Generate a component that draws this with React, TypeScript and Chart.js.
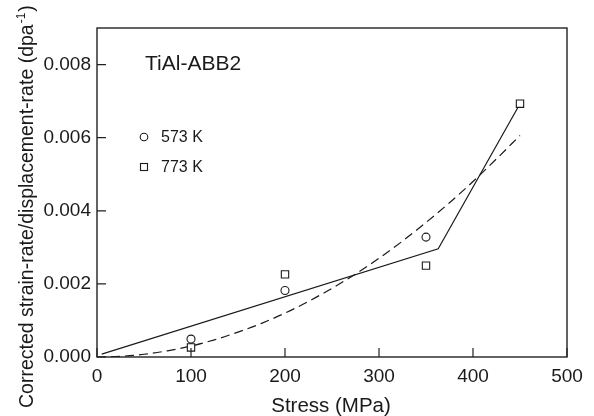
import React, { useEffect, useRef } from "react";
import { Chart, registerables } from "chart.js";

Chart.register(...registerables);

// ---- data ----
const xTicks = [0, 100, 200, 300, 400, 500];
const yTicks = [0, 0.002, 0.004, 0.006, 0.008];

const circleX = [100, 200, 350];
const circleY = [0.00049, 0.00182, 0.00328];

const squareX = [100, 200, 350, 450];
const squareY = [0.00026, 0.00226, 0.0025, 0.00693];

const solidX = [5, 363, 450];
const solidY = [0.00008, 0.00296, 0.00693];

const dashedX = [0, 25, 50, 75, 100, 125, 150, 175, 200, 225, 250, 275, 300, 325, 350, 375, 400, 425, 450];
const dashedY = [0, 0.00002, 0.000075, 0.00017, 0.0003, 0.00047, 0.00068, 0.00092, 0.0012, 0.00152, 0.00188, 0.00227, 0.0027, 0.00317, 0.00368, 0.00422, 0.0048, 0.00542, 0.00606];

const seriesLabels = ["573 K", "773 K"];
const chartTitle = "TiAl-ABB2";
const xTitle = "Stress (MPa)";
const yTitleMain = "Corrected strain-rate/displacement-rate (dpa";
const yTitleSup = "-1";
const yTitleEnd = ")";

const FONT = "'Liberation Sans', Arial, Helvetica, sans-serif";
const INK = "#1a1a1a";

const pts = (xs: number[], ys: number[]) => xs.map((x, i) => ({ x, y: ys[i] }));

const decorPlugin = {
  id: "decor",
  afterDraw(chart: any) {
    const { ctx, chartArea: a, scales } = chart;
    const xs = scales.x;
    const ys = scales.y;
    ctx.save();
    // frame
    ctx.strokeStyle = "#222";
    ctx.lineWidth = 1.4;
    ctx.strokeRect(a.left, a.top, a.right - a.left, a.bottom - a.top);
    // inward ticks
    ctx.lineWidth = 1.2;
    ctx.beginPath();
    xTicks.forEach((v) => {
      const px = xs.getPixelForValue(v);
      ctx.moveTo(px, a.bottom);
      ctx.lineTo(px, a.bottom - 9);
    });
    yTicks.forEach((v) => {
      const py = ys.getPixelForValue(v);
      ctx.moveTo(a.left, py);
      ctx.lineTo(a.left + 9, py);
    });
    ctx.stroke();

    ctx.fillStyle = INK;
    // inner title
    ctx.font = `21px ${FONT}`;
    ctx.textBaseline = "middle";
    ctx.textAlign = "left";
    ctx.fillText(chartTitle, a.left + 48, a.top + 36);

    // legend
    ctx.font = `16px ${FONT}`;
    ctx.lineWidth = 1.1;
    ctx.strokeStyle = INK;
    const lx = a.left + 47;
    const ly1 = a.top + 109;
    const ly2 = a.top + 139;
    ctx.beginPath();
    ctx.arc(lx, ly1, 3.8, 0, Math.PI * 2);
    ctx.stroke();
    ctx.strokeRect(lx - 3.5, ly2 - 3.5, 7, 7);
    ctx.fillText(seriesLabels[0], a.left + 64, ly1 + 1);
    ctx.fillText(seriesLabels[1], a.left + 64, ly2 + 1);

    // x title
    ctx.font = `20.5px ${FONT}`;
    ctx.textAlign = "center";
    ctx.textBaseline = "alphabetic";
    ctx.fillText(xTitle, (a.left + a.right) / 2 - 1, 412);

    // y title (rotated, with superscript)
    ctx.save();
    ctx.translate(33, 408);
    ctx.rotate(-Math.PI / 2);
    ctx.textAlign = "left";
    ctx.font = `19.5px ${FONT}`;
    ctx.fillText(yTitleMain, 0, 0);
    const w1 = ctx.measureText(yTitleMain).width;
    ctx.font = `12px ${FONT}`;
    ctx.fillText(yTitleSup, w1 + 1, -8);
    const w2 = ctx.measureText(yTitleSup).width;
    ctx.font = `19.5px ${FONT}`;
    ctx.fillText(yTitleEnd, w1 + w2 + 2, 0);
    ctx.restore();

    ctx.restore();
  },
};

export default function App() {
  const ref = useRef<HTMLCanvasElement | null>(null);
  useEffect(() => {
    document.body.style.margin = "0";
    const canvas = ref.current!;
    const chart = new Chart(canvas, {
      type: "scatter",
      data: {
        datasets: [
          {
            label: seriesLabels[0],
            data: pts(circleX, circleY),
            showLine: false,
            pointStyle: "circle",
            pointRadius: 4,
            pointBorderWidth: 1.1,
            pointBorderColor: INK,
            pointBackgroundColor: "rgba(255,255,255,0)",
          },
          {
            label: seriesLabels[1],
            data: pts(squareX, squareY),
            showLine: false,
            pointStyle: "rect",
            pointRadius: 5.2,
            pointBorderWidth: 1.1,
            pointBorderColor: INK,
            pointBackgroundColor: "#fff",
          },
          {
            label: "fit solid",
            data: pts(solidX, solidY),
            showLine: true,
            borderColor: INK,
            borderWidth: 1.2,
            pointRadius: 0,
            tension: 0,
          },
          {
            label: "fit dashed",
            data: pts(dashedX, dashedY),
            showLine: true,
            borderColor: INK,
            borderWidth: 1.2,
            borderDash: [9, 5],
            pointRadius: 0,
            tension: 0.4,
            cubicInterpolationMode: "monotone",
          },
        ],
      },
      options: {
        responsive: false,
        animation: false,
        events: [],
        layout: { padding: { left: 0, top: 28, right: 27, bottom: 0 } },
        plugins: { legend: { display: false }, tooltip: { enabled: false }, title: { display: false } },
        scales: {
          x: {
            type: "linear",
            min: 0,
            max: 500,
            afterBuildTicks: (s: any) => {
              s.ticks = xTicks.map((v) => ({ value: v }));
            },
            afterFit: (s: any) => {
              s.height = 59;
            },
            grid: { display: false, drawTicks: false },
            border: { display: false },
            ticks: {
              padding: 8,
              color: INK,
              font: { family: FONT, size: 19 },
              maxRotation: 0,
              callback: (v: any) => String(v),
            },
          },
          y: {
            type: "linear",
            min: 0,
            max: 0.009,
            afterBuildTicks: (s: any) => {
              s.ticks = yTicks.map((v) => ({ value: v }));
            },
            afterFit: (s: any) => {
              s.width = 97;
            },
            grid: { display: false, drawTicks: false },
            border: { display: false },
            ticks: {
              padding: 6,
              color: INK,
              font: { family: FONT, size: 19 },
              callback: (v: any) => Number(v).toFixed(3),
            },
          },
        },
      },
      plugins: [decorPlugin],
    });
    return () => chart.destroy();
  }, []);
  return (
    <div style={{ width: 594, height: 416 }}>
      <canvas ref={ref} width={594} height={416} style={{ display: "block" }} />
    </div>
  );
}
